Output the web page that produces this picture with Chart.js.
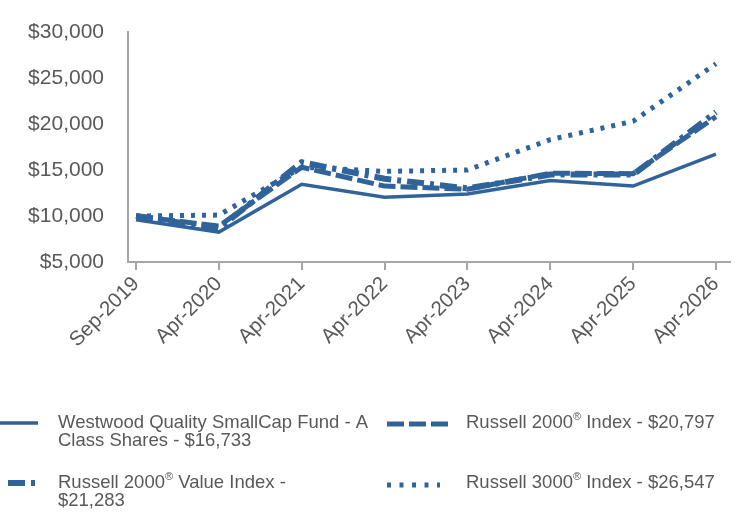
<!DOCTYPE html>
<html>
<head>
  <title>Growth of $10,000</title>
  <script src="https://cdn.jsdelivr.net/npm/chart.js"></script>
  <style>
    body { margin: 0; background: #fff; }
    #wrap { width: 744px; height: 516px; }
  </style>
</head>
<body>
  <div id="wrap"><canvas id="chart" width="744" height="516"></canvas></div>

  <script>
    const periods = ['Sep-2019', 'Apr-2020', 'Apr-2021', 'Apr-2022', 'Apr-2023', 'Apr-2024', 'Apr-2025', 'Apr-2026'];
    const fundValues = [9600, 8250, 13450, 12050, 12400, 13850, 13250, 16733];
    const r2000Values = [10000, 8900, 15300, 13250, 12900, 14650, 14600, 20797];
    const r2000ValueValues = [10000, 8650, 15850, 14050, 13000, 14500, 14500, 21283];
    const r3000Values = [10000, 10100, 15300, 14850, 15000, 18300, 20300, 26547];
    const yTicks = [5000, 10000, 15000, 20000, 25000, 30000];

    const blue = '#31639b';
    const textGray = '#595959';
    const axisGray = '#a6a6a6';

    // legend text, line breaks where the original wraps
    const legendText = [
      ['Westwood Quality SmallCap Fund - A', 'Class Shares - $16,733'],
      ['Russell 2000® Index - $20,797'],
      ['Russell 2000® Value Index -', '$21,283'],
      ['Russell 3000® Index - $26,547']
    ];

    function toPoints(values) {
      return values.map((v, i) => ({ x: i, y: v }));
    }

    const series = [
      { label: legendText[0], data: toPoints(fundValues), borderWidth: 3.5, borderDash: [] },
      { label: legendText[1], data: toPoints(r2000Values), borderWidth: 5, borderDash: [17, 5] },
      { label: legendText[2], data: toPoints(r2000ValueValues), borderWidth: 6, borderDash: [17, 6, 4, 6] },
      { label: legendText[3], data: toPoints(r3000Values), borderWidth: 5, borderDash: [4, 7] }
    ];

    // draws text with a raised, smaller ®
    function drawSupText(ctx, text, x, y, size) {
      const parts = text.split('®');
      let cx = x;
      parts.forEach((part, i) => {
        ctx.font = size + 'px "Liberation Sans", Arial, sans-serif';
        ctx.fillText(part, cx, y);
        cx += ctx.measureText(part).width;
        if (i < parts.length - 1) {
          ctx.font = Math.round(size * 0.6) + 'px "Liberation Sans", Arial, sans-serif';
          ctx.fillText('®', cx, y - size * 0.35);
          cx += ctx.measureText('®').width;
        }
      });
    }

    const legendPlugin = {
      id: 'sideLegend',
      afterDraw(chart) {
        const ctx = chart.ctx;
        // two columns, two rows
        const slots = [
          { lx: 0, lw: 38, tx: 58, y: 423, dash: null },
          { lx: 387, lw: 61, tx: 466, y: 424, dash: [17, 5] },
          { lx: 8, lw: 32, tx: 58, y: 483, dash: null },
          { lx: 387, lw: 53, tx: 466, y: 485, dash: [4, 8.5] }
        ];
        chart.data.datasets.forEach((ds, i) => {
          const s = slots[i];
          ctx.save();
          ctx.strokeStyle = ds.borderColor;
          ctx.lineWidth = ds.borderWidth;
          ctx.setLineDash(s.dash || ds.borderDash);
          ctx.beginPath();
          ctx.moveTo(s.lx, s.y);
          ctx.lineTo(s.lx + s.lw, s.y);
          ctx.stroke();
          ctx.restore();

          ctx.save();
          ctx.fillStyle = textGray;
          ctx.textBaseline = 'middle';
          ctx.textAlign = 'left';
          ds.label.forEach((line, j) => {
            drawSupText(ctx, line, s.tx, 423 + (i > 1 ? 60 : 0) + j * 18, 18.5);
          });
          ctx.restore();
        });
      }
    };

    new Chart(document.getElementById('chart').getContext('2d'), {
      type: 'line',
      data: {
        datasets: series.map(s => ({
          label: s.label,
          data: s.data,
          borderColor: blue,
          backgroundColor: blue,
          borderWidth: s.borderWidth,
          borderDash: s.borderDash,
          borderCapStyle: 'butt',
          borderJoinStyle: 'miter',
          pointRadius: 0,
          tension: 0,
          fill: false
        }))
      },
      options: {
        responsive: false,
        animation: false,
        layout: { padding: { top: 32, right: 14, left: 0, bottom: 0 } },
        plugins: {
          legend: { display: false },
          tooltip: { enabled: false }
        },
        scales: {
          x: {
            type: 'linear',
            min: -0.097,
            max: 7.17,
            afterBuildTicks: scale => {
              scale.ticks = periods.map((p, i) => ({ value: i }));
            },
            afterFit: scale => { scale.height = 254; },
            grid: { drawOnChartArea: false, drawTicks: true, tickLength: 8, color: axisGray, lineWidth: 2 },
            border: { display: true, color: axisGray, width: 2 },
            ticks: {
              autoSkip: false,
              maxRotation: 45,
              minRotation: 45,
              padding: 2,
              color: textGray,
              font: { family: '"Liberation Sans", Arial, sans-serif', size: 20.5 },
              callback: value => periods[value]
            }
          },
          y: {
            min: 5000,
            max: 30000,
            afterBuildTicks: scale => {
              scale.ticks = yTicks.map(v => ({ value: v }));
            },
            afterFit: scale => {
              scale.width = 128;
              scale.paddingTop = 0;
              scale.paddingBottom = 0;
            },
            grid: { display: false, drawTicks: false },
            border: { display: true, color: axisGray, width: 2 },
            ticks: {
              padding: 24,
              color: textGray,
              font: { family: '"Liberation Sans", Arial, sans-serif', size: 21 },
              callback: value => '$' + value.toLocaleString('en-US')
            }
          }
        }
      },
      plugins: [legendPlugin]
    });
  </script>
</body>
</html>
